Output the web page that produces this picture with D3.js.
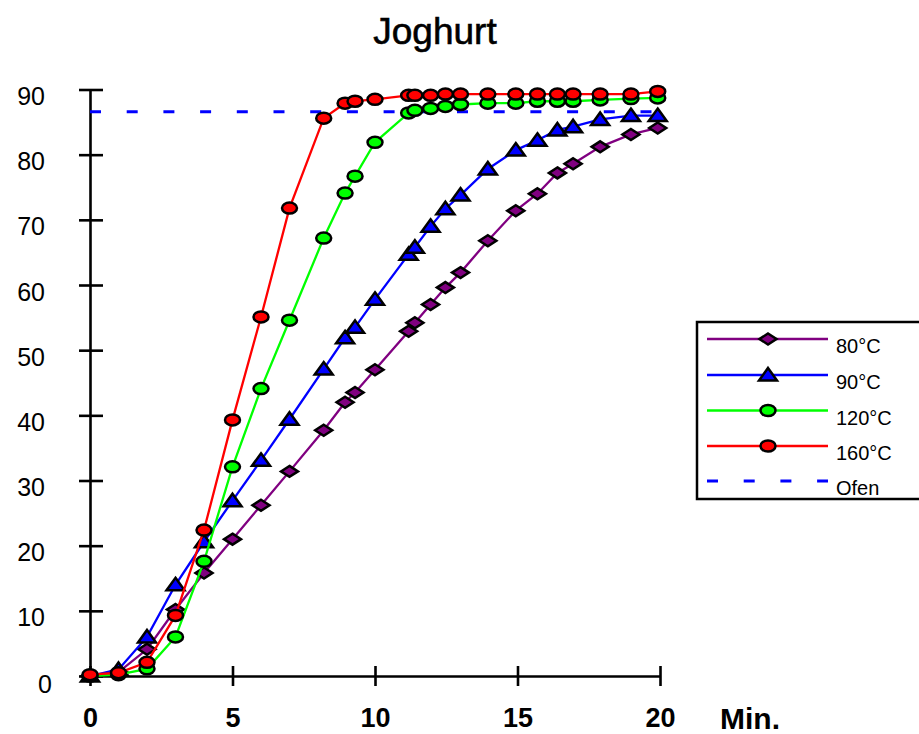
<!DOCTYPE html>
<html>
<head>
<meta charset="utf-8">
<script src="https://cdn.jsdelivr.net/npm/d3@7"></script>
<style>
  html, body { margin: 0; padding: 0; background: #fff; }
  svg { display: block; font-family: "Liberation Sans", Arial, sans-serif; }
</style>
</head>
<body>
<div id="chart"></div>
<script>
// time in minutes, shared by all four series
const minutes = [0, 1, 2, 3, 4, 5, 6, 7, 8.2, 8.95, 9.3, 10, 11.18, 11.4, 11.95, 12.47, 13, 13.96, 14.94, 15.7, 16.4, 16.95, 17.9, 18.98, 19.92];

const temp80 = [0, 0.6, 4.1, 10.2, 15.8, 21.0, 26.2, 31.4, 37.7, 42.0, 43.5, 47.0, 52.9, 54.2, 57.0, 59.6, 61.9, 66.8, 71.4, 74.0, 77.2, 78.6, 81.2, 83.1, 84.1];
const temp90 = [0, 1.0, 6.0, 14.0, 20.6, 26.9, 33.1, 39.4, 47.1, 51.9, 53.5, 57.8, 64.7, 65.8, 69.0, 71.7, 73.8, 77.8, 80.7, 82.2, 83.8, 84.3, 85.4, 86.0, 86.0];
const temp120 = [0, 0.2, 1.1, 6.0, 17.6, 32.1, 44.1, 54.6, 67.2, 74.1, 76.7, 81.9, 86.4, 86.8, 87.1, 87.4, 87.7, 87.9, 87.9, 88.2, 88.2, 88.2, 88.4, 88.6, 88.7];
const temp160 = [0.2, 0.5, 2.1, 9.3, 22.4, 39.3, 55.1, 71.8, 85.6, 87.9, 88.2, 88.5, 89.1, 89.1, 89.1, 89.3, 89.3, 89.3, 89.3, 89.3, 89.3, 89.3, 89.3, 89.3, 89.7];
const ofenTemp = 86.6;

const seriesNames = ["80°C", "90°C", "120°C", "160°C"];
const seriesValues = [temp80, temp90, temp120, temp160];
const seriesColors = ["#800080", "#0000ff", "#00ff00", "#ff0000"];
const seriesShapes = ["diamond", "triangle", "ellipse", "ellipse"];

const xTicks = [0, 5, 10, 15, 20];
const yTicks = [0, 10, 20, 30, 40, 50, 60, 70, 80, 90];

const width = 919;
const height = 734;

const x = d3.scaleLinear().domain([0, 20]).range([90, 660]);
const y = d3.scaleLinear().domain([0, 90]).range([676, 89.5]);

const svg = d3.select("#chart").append("svg")
  .attr("width", width)
  .attr("height", height);

svg.append("text")
  .attr("x", 435)
  .attr("y", 44)
  .attr("text-anchor", "middle")
  .attr("font-size", 37)
  .attr("fill", "#000")
  .attr("stroke", "#000")
  .attr("stroke-width", 0.6)
  .text("Joghurt");

// axes
const yAxis = svg.append("g")
  .attr("transform", `translate(${x(0)},0)`)
  .call(d3.axisLeft(y).tickValues(yTicks).tickSize(11).tickSizeOuter(0));
yAxis.select(".domain").attr("stroke-width", 2.6);
yAxis.selectAll(".tick line").attr("x1", 13).attr("stroke-width", 2.6);
yAxis.selectAll(".tick text")
  .attr("x", d => d === 0 ? -38 : -45)
  .attr("y", d => d === 0 ? 8 : 7)
  .attr("font-size", 25)
  .attr("font-family", "Liberation Sans, Arial, sans-serif");

const xAxis = svg.append("g")
  .attr("transform", `translate(0,${y(0)})`)
  .call(d3.axisBottom(x).tickValues(xTicks).tickSize(10).tickSizeOuter(0));
xAxis.select(".domain").attr("stroke-width", 2.6);
xAxis.selectAll(".tick line").attr("y1", -10).attr("stroke-width", 2.6);
xAxis.selectAll(".tick text")
  .attr("y", 32)
  .attr("font-size", 27)
  .attr("font-weight", "bold")
  .attr("font-family", "Liberation Sans, Arial, sans-serif");

svg.append("text")
  .attr("x", 720)
  .attr("y", 729)
  .attr("font-size", 30)
  .attr("font-weight", "bold")
  .text("Min.");

// oven reference line
svg.append("line")
  .attr("x1", x(0))
  .attr("x2", x(20))
  .attr("y1", y(ofenTemp))
  .attr("y2", y(ofenTemp))
  .attr("stroke", "#0000ff")
  .attr("stroke-width", 3)
  .attr("stroke-dasharray", "11,25.7");

function drawMarker(g, shape, color) {
  if (shape === "diamond") {
    g.append("path").attr("d", "M0,-5.5L8.5,0L0,5.5L-8.5,0Z");
  } else if (shape === "triangle") {
    g.append("path").attr("d", "M0,-7L9,5.5L-9,5.5Z");
  } else {
    g.append("ellipse").attr("rx", 7.5).attr("ry", 5.5);
  }
  g.selectAll("path, ellipse")
    .attr("fill", color)
    .attr("stroke", "#000")
    .attr("stroke-width", 2.5)
    .attr("stroke-linejoin", "miter");
}

const line = d3.line()
  .x(d => x(d[0]))
  .y(d => y(d[1]));

seriesValues.forEach((vals, i) => {
  const pts = minutes.map((m, j) => [m, vals[j]]);
  const g = svg.append("g");
  g.append("path")
    .datum(pts)
    .attr("d", line)
    .attr("fill", "none")
    .attr("stroke", seriesColors[i])
    .attr("stroke-width", 2.3);
  pts.forEach(p => {
    const mg = g.append("g").attr("transform", `translate(${x(p[0])},${y(p[1])})`);
    drawMarker(mg, seriesShapes[i], seriesColors[i]);
  });
});

// legend
const legend = svg.append("g");
legend.append("rect")
  .attr("x", 697)
  .attr("y", 322)
  .attr("width", 240)
  .attr("height", 177)
  .attr("fill", "#fff")
  .attr("stroke", "#000")
  .attr("stroke-width", 2.5);

const rowY = [339, 375, 410.5, 446, 481];
seriesNames.forEach((name, i) => {
  legend.append("line")
    .attr("x1", 707).attr("x2", 828)
    .attr("y1", rowY[i]).attr("y2", rowY[i])
    .attr("stroke", seriesColors[i])
    .attr("stroke-width", 2.3);
  const mg = legend.append("g").attr("transform", `translate(768,${rowY[i]})`);
  drawMarker(mg, seriesShapes[i], seriesColors[i]);
  legend.append("text")
    .attr("x", 836)
    .attr("y", rowY[i] + 14)
    .attr("font-size", 20)
    .text(name);
});

legend.append("line")
  .attr("x1", 707).attr("x2", 828)
  .attr("y1", rowY[4]).attr("y2", rowY[4])
  .attr("stroke", "#0000ff")
  .attr("stroke-width", 3)
  .attr("stroke-dasharray", "11,25.7");
legend.append("text")
  .attr("x", 836)
  .attr("y", rowY[4] + 14)
  .attr("font-size", 20)
  .text("Ofen");
</script>
</body>
</html>
